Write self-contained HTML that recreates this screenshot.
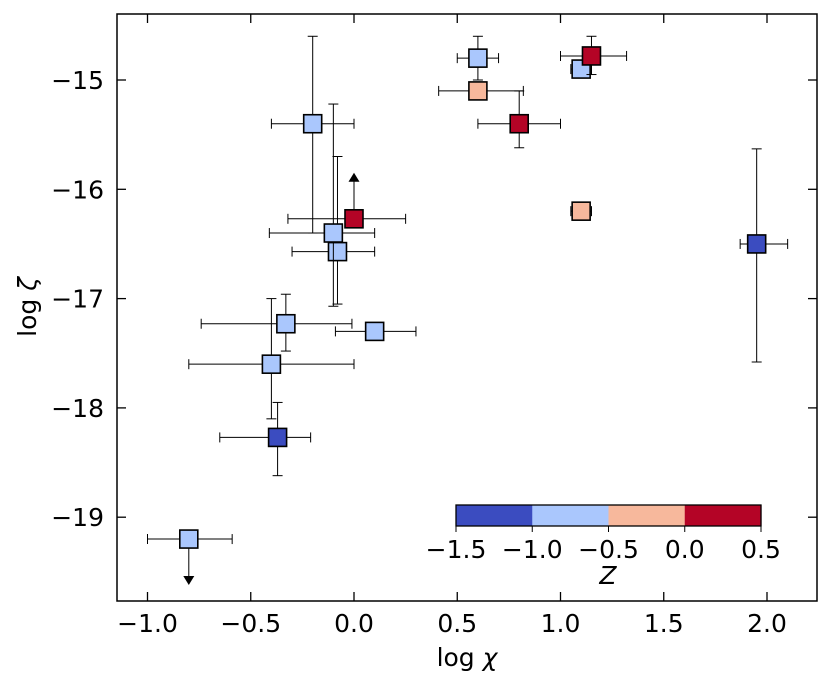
<!DOCTYPE html>
<html><head><meta charset="utf-8"><style>
body{margin:0;background:#fff;}
svg text{font-family:"DejaVu Sans","Liberation Sans",sans-serif;fill:#000;}
</style></head><body>
<svg id="c" width="831" height="687">
<rect x="117" y="14" width="700" height="587" fill="none" stroke="#000" stroke-width="1.5"/>
<g id="ticks"></g><g id="pts"></g><g id="cb"></g>
<text x="467" y="666" font-size="25" text-anchor="middle">log <tspan font-style="italic">χ</tspan></text>
<text transform="translate(36,307) rotate(-90)" font-size="25" text-anchor="middle">log <tspan font-style="italic">ζ</tspan></text>
</svg>
<script>
const xs=[-0.8,-0.37,-0.4,-0.33,0.1,-0.08,-0.1,-0.2,0.0,0.6,0.6,0.8,1.1,1.15,1.1,1.95];
const ys=[-19.2,-18.27,-17.6,-17.23,-17.3,-16.57,-16.4,-15.4,-16.27,-14.8,-15.1,-15.4,-14.9,-14.78,-16.2,-16.5];
const xlo=[-1.0,-0.65,-0.8,-0.74,-0.09,-0.3,-0.41,-0.4,-0.32,0.5,0.41,0.6,1.05,1.0,1.05,1.87];
const xhi=[-0.59,-0.21,0.0,-0.01,0.3,0.1,0.1,0.0,0.25,0.7,0.82,1.0,1.15,1.32,1.15,2.1];
const ylo=[-19.2,-18.62,-18.1,-17.48,-17.36,-17.05,-17.07,-16.4,-16.27,-15.0,-15.1,-15.62,-14.97,-14.95,-16.28,-17.58];
const yhi=[-19.2,-17.95,-17.0,-16.96,-17.24,-15.7,-15.22,-14.6,-16.27,-14.6,-15.1,-15.1,-14.84,-14.6,-16.12,-15.63];
const lim=[-1,0,0,0,0,0,0,0,1,0,0,0,0,0,0,0];
const zs=[-0.8,-1.3,-0.8,-0.8,-0.8,-0.8,-0.8,-0.8,0.3,-0.8,-0.2,0.3,-0.8,0.3,-0.2,-1.3];
const xticks=[-1.0,-0.5,0.0,0.5,1.0,1.5,2.0];
const yticks=[-15,-16,-17,-18,-19];
const cbTicks=[-1.5,-1.0,-0.5,0.0,0.5];
const cbColors=["#3b4cc0","#aac7fd","#f7b89c","#b40426"];
const X=v=>354+v*206.5, Y=v=>80+(-15-v)*109.3;
const NS="http://www.w3.org/2000/svg";
function mk(p,t,a){const e=document.createElementNS(NS,t);for(const k in a)e.setAttribute(k,a[k]);p.appendChild(e);return e;}
const fmt=v=>(v<0?"−":"")+Math.abs(v).toFixed(1);
const tk=document.getElementById('ticks');
xticks.forEach(v=>{const x=X(v);
mk(tk,'line',{x1:x,x2:x,y1:601,y2:592,stroke:'#000','stroke-width':1.3});mk(tk,'line',{x1:x,x2:x,y1:14,y2:23,stroke:'#000','stroke-width':1.3});
const t=mk(tk,'text',{x:x,y:632,'font-size':25,'text-anchor':'middle'});t.textContent=fmt(v);

});
yticks.forEach(v=>{const y=Y(v);
mk(tk,'line',{x1:117,x2:126,y1:y,y2:y,stroke:'#000','stroke-width':1.3});mk(tk,'line',{x1:817,x2:808,y1:y,y2:y,stroke:'#000','stroke-width':1.3});
const t=mk(tk,'text',{x:104,y:y+9,'font-size':25,'text-anchor':'end'});t.textContent="−"+Math.abs(v);

});
function col(z){return z<-1?cbColors[0]:z<-0.5?cbColors[1]:z<0?cbColors[2]:cbColors[3];}
const pg=document.getElementById('pts');
xs.forEach((v,i)=>{const g=mk(pg,'g',{});


const x=X(v),y=Y(ys[i]),s={stroke:'#000','stroke-width':1};
mk(g,'line',Object.assign({x1:X(xlo[i]),x2:X(xhi[i]),y1:y,y2:y},s));
[xlo[i],xhi[i]].forEach(q=>mk(g,'line',Object.assign({x1:X(q),x2:X(q),y1:y-5,y2:y+5},s)));
if(ylo[i]!==yhi[i]){mk(g,'line',Object.assign({x1:x,x2:x,y1:Y(ylo[i]),y2:Y(yhi[i])},s));
[ylo[i],yhi[i]].forEach(q=>mk(g,'line',Object.assign({x1:x-5,x2:x+5,y1:Y(q),y2:Y(q)},s)));}
if(lim[i]){const d=lim[i]>0?1:-1;
mk(g,'line',Object.assign({x1:x,x2:x,y1:y,y2:y-d*40},s));
const ty=y-d*46;mk(g,'path',{d:`M${x-5.5} ${ty+d*9}L${x+5.5} ${ty+d*9}L${x} ${ty}Z`,fill:'#000'});}
mk(g,'rect',{x:x-9,y:y-9,width:18,height:18,fill:col(zs[i]),stroke:'#000','stroke-width':1.6});});
const cb=document.getElementById('cb');
cbColors.forEach((c,i)=>{const r=mk(cb,'rect',{x:456+i*76.25,y:505,width:76.8,height:21,fill:c});

});
mk(cb,'rect',{x:456,y:505,width:305,height:21,fill:'none',stroke:'#000','stroke-width':1.3});
cbTicks.forEach((v,i)=>{const x=456+i*76.25;mk(cb,'line',{x1:x,x2:x,y1:526,y2:532,stroke:'#000'});
const t=mk(cb,'text',{x:x,y:558,'font-size':25,'text-anchor':'middle'});t.textContent=fmt(v);

});
const zl=mk(cb,'text',{x:608,y:584,'font-size':25,'text-anchor':'middle','font-style':'italic'});zl.textContent="Z";


</script>
</body></html>
